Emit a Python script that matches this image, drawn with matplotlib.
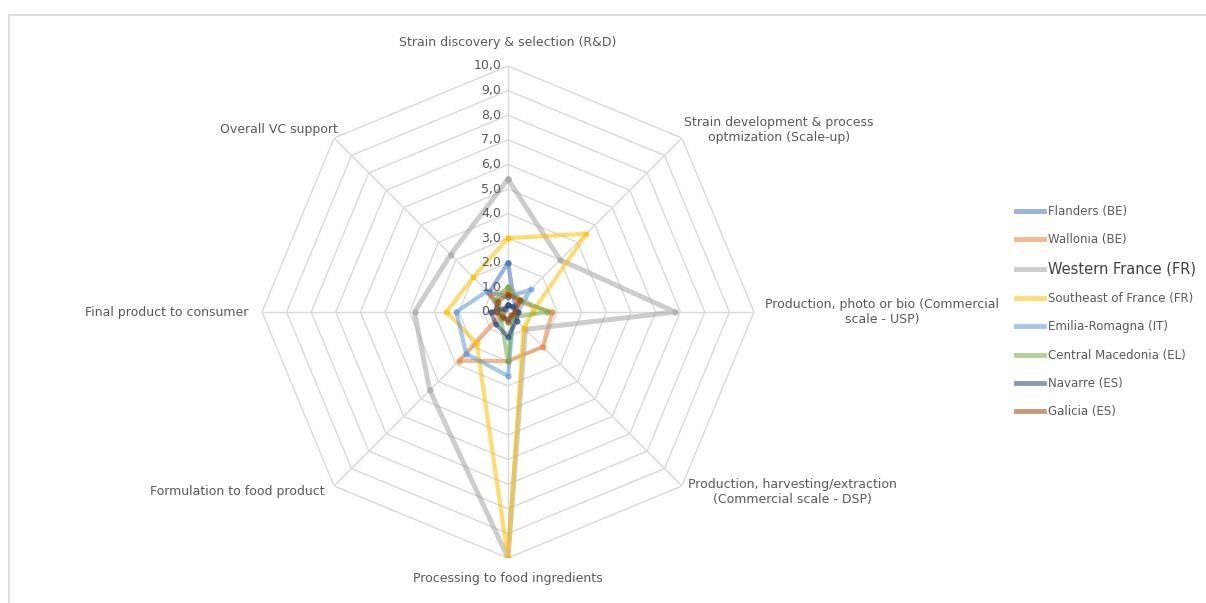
import numpy as np
import matplotlib
matplotlib.use('Agg')
from matplotlib import pyplot as plt
from matplotlib.lines import Line2D

# Eixos (sentido horário a partir do topo)
categorias = ['Strain discovery & selection (R&D)',
              'Strain development & process\noptmization (Scale-up)',
              'Production, photo or bio (Commercial\nscale - USP)',
              'Production, harvesting/extraction\n(Commercial scale - DSP)',
              'Processing to food ingredients',
              'Formulation to food product',
              'Final product to consumer',
              'Overall VC support']

regioes = ['Flanders (BE)', 'Wallonia (BE)', 'Western France (FR)',
           'Southeast of France (FR)', 'Emilia-Romagna (IT)',
           'Central Macedonia (EL)', 'Navarre (ES)', 'Galicia (ES)']

flanders = [2.0, 0.4, 0.3, 0.3, 0.3, 0.3, 0.3, 1.1]
wallonia = [0.8, 0.6, 1.8, 2.0, 2.0, 2.8, 0.2, 1.0]
western_france = [5.4, 3.0, 6.8, 1.0, 10.0, 4.5, 3.8, 3.3]
southeast_france = [3.0, 4.5, 1.0, 0.9, 10.0, 1.8, 2.5, 2.0]
emilia_romagna = [0.6, 1.3, 0.4, 0.3, 2.6, 2.4, 2.1, 1.2]
central_macedonia = [1.0, 0.7, 1.6, 0.3, 2.0, 0.4, 0.3, 0.7]
navarre = [0.3, 0.3, 0.4, 0.5, 1.0, 0.7, 0.7, 0.2]
galicia = [0.7, 0.7, 0.3, 0.2, 0.4, 0.3, 0.5, 0.6]

series = [flanders, wallonia, western_france, southeast_france,
          emilia_romagna, central_macedonia, navarre, galicia]
cores = ['#4472c4', '#ed7d31', '#a5a5a5', '#ffc000',
         '#5b9bd5', '#70ad47', '#264478', '#9e480e']

niveis = np.arange(0, 11)

W, H = 1206, 603
fig = plt.figure(figsize=(W / 100, H / 100), dpi=100)

# moldura do gráfico
fig.add_artist(Line2D([9 / W, 1.0], [1 - 14.5 / H, 1 - 14.5 / H], color='#d9d9d9', lw=1.2))
fig.add_artist(Line2D([9 / W, 9 / W], [0, 1 - 14.5 / H], color='#d9d9d9', lw=1.2))

cx, cy, raio = 508, 312, 246
ax = fig.add_axes([(cx - raio) / W, (H - cy - raio) / H, 2 * raio / W, 2 * raio / H],
                  projection='polar')
ax.set_theta_zero_location('N')
ax.set_theta_direction(-1)
ax.set_ylim(0, 10)
ax.grid(False)
ax.spines['polar'].set_visible(False)
ax.set_xticks([])
ax.set_yticks([])
ax.patch.set_alpha(0)

n = len(categorias)
angulos = np.linspace(0, 2 * np.pi, n, endpoint=False)
ang_fechado = np.append(angulos, angulos[0])

# grade octogonal
for r in niveis[1:]:
    ax.plot(ang_fechado, [r] * (n + 1), color='#d9d9d9', lw=1.0, zorder=1)
for a in angulos:
    ax.plot([a, a], [0, 10], color='#d9d9d9', lw=1.0, zorder=1)

# rótulos dos valores
for r in niveis:
    ax.annotate(f'{r:.1f}'.replace('.', ','), xy=(0, r), xytext=(-5, 0),
                textcoords='offset points', ha='right', va='center',
                fontsize=9, color='#595959', zorder=5)

# rótulos das categorias
pos_rotulos = [('center', 'center', 0, 17),
               ('center', 'center', 70, 6),
               ('left', 'center', 8, 0),
               ('left', 'center', 4, -4),
               ('center', 'center', 0, -15),
               ('right', 'center', -7, -4),
               ('right', 'center', -10, 0),
               ('right', 'center', 3, 6)]
for a, nome, (ha, va, dx, dy) in zip(angulos, categorias, pos_rotulos):
    ax.annotate(nome, xy=(a, 10), xytext=(dx, dy), textcoords='offset points',
                ha=ha, va=va, multialignment='center', fontsize=9, color='#595959')

# séries
for valores, cor, nome in zip(series, cores, regioes):
    v = np.append(valores, valores[0])
    lw = 3.6 if nome == 'Western France (FR)' else 3.0
    ax.plot(ang_fechado, v, color=cor, lw=lw, alpha=0.55, solid_joinstyle='round',
            marker='o', markersize=3.5, label=nome, zorder=3)

# legenda
handles = [Line2D([0], [0], color=c, lw=3.5, alpha=0.55) for c in cores]
leg = fig.legend(handles, regioes, loc='upper left', bbox_to_anchor=(1010 / W, 1 - 199 / H),
                 frameon=False, fontsize=8.5, handlelength=2.4, handletextpad=0.3,
                 labelspacing=1.3, borderpad=0)
for t in leg.get_texts():
    t.set_color('#595959')
leg.get_texts()[2].set_fontsize(10.5)
leg.get_texts()[2].set_color('#404040')

fig.savefig('out.png', dpi=100)
